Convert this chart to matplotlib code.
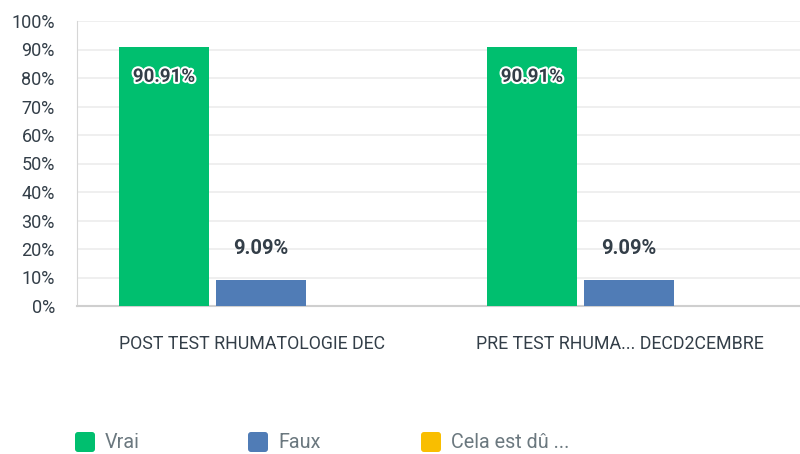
import numpy as np
import matplotlib.pyplot as plt
import matplotlib.patheffects as pe
import matplotlib.transforms as mtransforms
from matplotlib.patches import FancyBboxPatch

plt.rcParams['font.family'] = ['Roboto', 'DejaVu Sans']

# data
categories = ['POST TEST RHUMATOLOGIE DEC', 'PRE TEST RHUMA... DECD2CEMBRE']
series = ['Vrai', 'Faux', 'Cela est dû ...']
values = [
    [90.91, 90.91],  # Vrai
    [9.09, 9.09],    # Faux
    [0.0, 0.0],      # Cela est dû ...
]
colors = ['#00bf6f', '#507cb6', '#f9be00']
yticks = np.arange(0, 101, 10)

text_col = '#333e48'
W, H = 800, 454

fig = plt.figure(figsize=(W / 100, H / 100), dpi=100)
ax = fig.add_axes([77 / W, 1 - 306 / H, 723 / W, 285 / H])

x = np.arange(len(categories))
bar_w = 0.245
step = 0.264
for i, (name, vals, c) in enumerate(zip(series, values, colors)):
    xs = x + (i - 1) * step
    ax.bar(xs, vals, width=bar_w, color=c, zorder=3)
    for xv, v in zip(xs, vals):
        if v <= 0:
            continue
        if v > 50:
            ax.text(xv, v - 10.5, f'{v:.2f}%', ha='center', va='center',
                    fontsize=13.5, fontweight='bold', color=text_col, zorder=4,
                    path_effects=[pe.withStroke(linewidth=3, foreground='white')])
        else:
            ax.text(xv, v + 11, f'{v:.2f}%', ha='center', va='center',
                    fontsize=14.5, fontweight='bold', color=text_col, zorder=4)

ax.set_xlim(-0.5, 1.465)
ax.set_ylim(0, 100)
ax.set_yticks(yticks)
ax.set_yticklabels([f'{t}%' for t in yticks])
ax.set_xticks(x)
ax.set_xticklabels(categories)
ax.tick_params(axis='y', length=0, pad=16, labelsize=13, labelcolor=text_col)
ax.tick_params(axis='x', length=0, pad=21, labelsize=12.8, labelcolor=text_col)
shift = mtransforms.ScaledTranslation(-9 / 100, 0, fig.dpi_scale_trans)
for lbl in ax.get_xticklabels():
    lbl.set_transform(lbl.get_transform() + shift)
ax.yaxis.grid(True, color='#ececec', linewidth=1.2, zorder=0)
ax.set_axisbelow(True)
for s in ['top', 'right']:
    ax.spines[s].set_visible(False)
ax.spines['left'].set_color('#d6d6d6')
ax.spines['bottom'].set_color('#cfcfcf')
ax.spines['bottom'].set_linewidth(1.5)

# legend drawn in pixel space
lax = fig.add_axes([0, 0, 1, 1])
lax.set_xlim(0, W)
lax.set_ylim(H, 0)
lax.axis('off')
for i, (name, c) in enumerate(zip(series, colors)):
    x0 = 75 + i * 173
    lax.add_patch(FancyBboxPatch((x0, 432), 20, 20,
                                 boxstyle='round,pad=0,rounding_size=3',
                                 facecolor=c, edgecolor='none'))
    lax.text(x0 + 30, 443, name, ha='left', va='center', fontsize=14.2,
             color='#6b787f')

fig.savefig('out.png', dpi=100)
